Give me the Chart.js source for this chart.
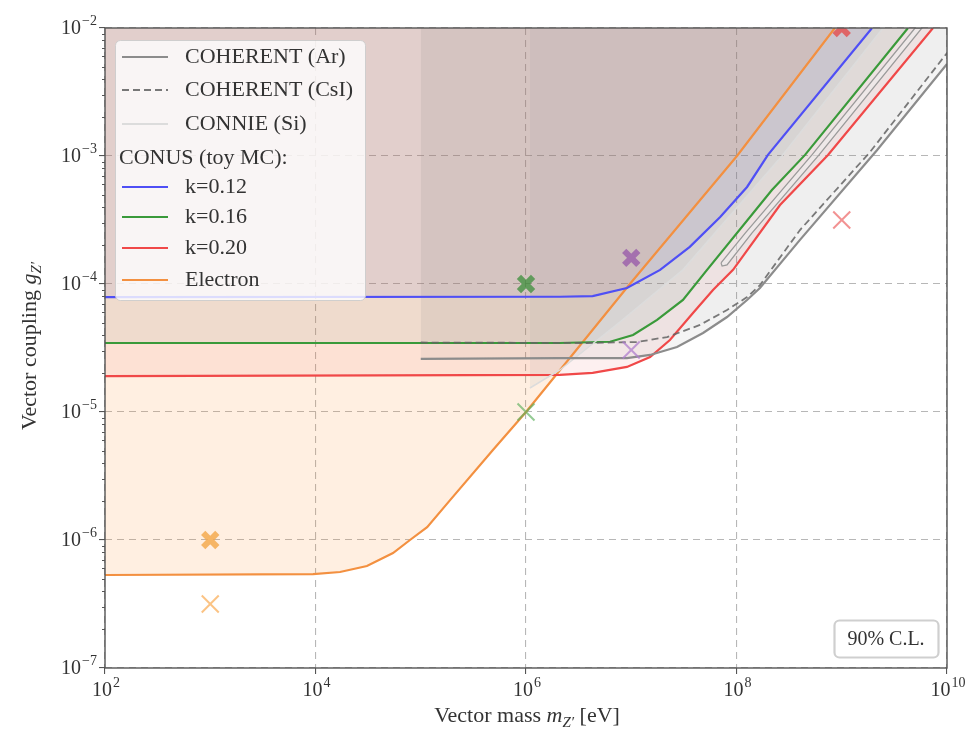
<!DOCTYPE html>
<html>
<head>
<meta charset="utf-8">
<title>Vector Z' limits</title>
<script src="https://cdn.jsdelivr.net/npm/chart.js"></script>
<style>
  body { margin: 0; background: #fff; }
</style>
</head>
<body>
<canvas id="myChart" width="980" height="731"></canvas>
<script>
// values: mass in eV, coupling g_Z'
const xTickVals = [1e2, 1e4, 1e6, 1e8, 1e10];
const yTickVals = [1e-7, 1e-6, 1e-5, 1e-4, 1e-3, 1e-2];

const arMass = [1e5, 2.1e6, 9.1e6, 1.51e7, 2.72e7, 4.81e7, 8.13e7, 1.26e8, 1.67e8, 4.01e8, 2.16e9, 1e10];
const arCoupling = [2.6e-5, 2.64e-5, 2.64e-5, 2.79e-5, 3.22e-5, 4.14e-5, 5.52e-5, 7.5e-5, 9.3e-5, 2.21e-4, 1.11e-3, 5.23e-3];

const csiMass = [1e5, 3.8e6, 1.13e7, 2.19e7, 4.5e7, 8.13e7, 1.26e8, 1.67e8, 4.01e8, 1.85e9, 1e10];
const csiCoupling = [3.49e-5, 3.46e-5, 3.52e-5, 3.85e-5, 4.79e-5, 6.26e-5, 7.9e-5, 9.8e-5, 2.64e-4, 1.07e-3, 6.38e-3];

// small closed CsI contour between the k=0.16 and k=0.20 curves
const csiIslandMass = [7.13e7, 1.21e8, 5.21e8, 4.97e9, 5.78e9, 6.08e8, 1.4e8, 8.13e7, 7.3e7, 7.13e7];
const csiIslandCoupling = [1.46e-4, 2.5e-4, 1.02e-3, 1e-2, 1e-2, 1.02e-3, 2.5e-4, 1.41e-4, 1.38e-4, 1.46e-4];

const connieMass = [1.09e6, 2.1e6, 7.8e6, 3.1e7, 2.7e8, 2.47e9];
const connieCoupling = [1.54e-5, 2.13e-5, 5.05e-5, 1.29e-4, 1e-3, 1e-2];

const k012Mass = [1e2, 2.1e6, 4.3e6, 9.1e6, 1.88e7, 3.6e7, 7.0e7, 1.26e8, 1.99e8, 1.94e9];
const k012Coupling = [7.9e-5, 7.95e-5, 8.05e-5, 9.3e-5, 1.29e-4, 1.95e-4, 3.34e-4, 5.73e-4, 1.02e-3, 1e-2];

const k016Mass = [1e2, 2.1e6, 6.3e6, 1.04e7, 1.76e7, 3.1e7, 5.25e7, 2.17e8, 4.48e8, 4.26e9];
const k016Coupling = [3.46e-5, 3.46e-5, 3.54e-5, 4.0e-5, 5.24e-5, 7.5e-5, 1.29e-4, 5.42e-4, 1.02e-3, 1e-2];

const k020Mass = [1e2, 2.1e6, 4.3e6, 9.1e6, 1.51e7, 2.33e7, 3.86e7, 5.98e7, 9.27e7, 2.59e8, 7.4e8, 7.36e9];
const k020Coupling = [1.91e-5, 1.95e-5, 2.02e-5, 2.25e-5, 2.69e-5, 3.65e-5, 5.93e-5, 8.98e-5, 1.29e-4, 4.14e-4, 1.02e-3, 1e-2];

const electronMass = [1e2, 9.5e3, 1.71e4, 3.08e4, 5.45e4, 7.9e4, 1.15e5, 1.9e5, 4.85e5, 1e6, 9.7e6, 1.01e8, 8.6e8];
const electronCoupling = [5.33e-7, 5.42e-7, 5.62e-7, 6.26e-7, 7.91e-7, 1e-6, 1.26e-6, 2.05e-6, 5.05e-6, 1e-5, 1e-4, 1e-3, 1e-2];

// benchmark points (bold X and thin x)
const boldXMass = [1e3, 1e6, 1e7, 1e9];
const boldXCoupling = [1e-6, 1e-4, 1.6e-4, 1e-2];
const thinXMass = [1e3, 1e6, 1e7, 1e9];
const thinXCoupling = [3.16e-7, 1e-5, 3.05e-5, 3.16e-4];

const legendLabels = ['COHERENT (Ar)', 'COHERENT (CsI)', 'CONNIE (Si)', 'CONUS (toy MC):', 'k=0.12', 'k=0.16', 'k=0.20', 'Electron'];

const SERIF = '"Liberation Serif", "DejaVu Serif", serif';

function pts(xs, ys) {
    return xs.map((x, i) => ({ x: x, y: ys[i] }));
}

function curve(label, xs, ys, color, fillColor, extra) {
    return Object.assign({
        label: label,
        data: pts(xs, ys),
        borderColor: color,
        backgroundColor: fillColor,
        borderWidth: 2.2,
        pointRadius: 0,
        fill: fillColor ? 'end' : false,
        tension: 0
    }, extra || {});
}

const datasets = [
    {
        label: 'bold X',
        data: pts(boldXMass, boldXCoupling),
        showLine: false,
        pointStyle: 'crossRot',
        pointRadius: 10,
        pointBorderWidth: 6,
        pointBorderColor: ['rgba(245,170,80,0.85)', 'rgba(50,140,50,0.7)', 'rgba(150,85,170,0.75)', 'rgba(230,70,70,0.75)'],
        clip: 0
    },
    {
        label: 'thin x',
        data: pts(thinXMass, thinXCoupling),
        showLine: false,
        pointStyle: 'crossRot',
        pointRadius: 12,
        pointBorderWidth: 2,
        pointBorderColor: ['rgba(250,185,110,0.85)', 'rgba(90,175,90,0.65)', 'rgba(175,125,205,0.75)', 'rgba(238,110,110,0.75)'],
        clip: 0
    },
    curve('COHERENT (CsI)', csiMass, csiCoupling, 'rgba(100,100,100,0.85)', 'rgba(110,110,110,0.03)', { borderDash: [7, 4], borderWidth: 1.8 }),
    curve('COHERENT (Ar)', arMass, arCoupling, '#8c8c8c', 'rgba(110,110,120,0.08)'),
    curve('CsI island', csiIslandMass, csiIslandCoupling, '#9a9a9a', 'rgba(255,255,255,0.55)', { fill: 'shape', borderWidth: 1.3 }),
    curve('CONNIE (Si)', connieMass, connieCoupling, '#dcdcdc', 'rgba(120,130,140,0.09)', { borderWidth: 1.5 }),
    curve('k=0.12', k012Mass, k012Coupling, '#4f4ff5', 'rgba(80,60,190,0.08)'),
    curve('k=0.16', k016Mass, k016Coupling, '#3a9a3a', 'rgba(60,140,120,0.08)'),
    curve('k=0.20', k020Mass, k020Coupling, '#f04848', 'rgba(225,60,70,0.08)'),
    curve('Electron', electronMass, electronCoupling, '#f39040', 'rgba(255,140,40,0.14)')
];

const legendStyle = [
    { color: '#8c8c8c', dash: [] },
    { color: '#777', dash: [7, 4] },
    { color: '#dcdcdc', dash: [] },
    null,
    { color: '#4f4ff5', dash: [] },
    { color: '#3a9a3a', dash: [] },
    { color: '#f04848', dash: [] },
    { color: '#f39040', dash: [] }
];
const legendRowY = [57, 90, 124, 158, 187, 217, 248, 280];

function roundBox(ctx, x, y, w, h, r) {
    ctx.beginPath();
    ctx.moveTo(x + r, y);
    ctx.arcTo(x + w, y, x + w, y + h, r);
    ctx.arcTo(x + w, y + h, x, y + h, r);
    ctx.arcTo(x, y + h, x, y, r);
    ctx.arcTo(x, y, x + w, y, r);
    ctx.closePath();
}

// text with italic / subscript pieces, centred on (cx, cy)
function drawRich(ctx, parts, cx, cy, size) {
    const fontOf = p => (p.it ? 'italic ' : '') + (p.sub ? Math.round(size * 0.7) : size) + 'px ' + SERIF;
    let total = 0;
    parts.forEach(p => { ctx.font = fontOf(p); p.w = ctx.measureText(p.t).width; total += p.w; });
    let x = cx - total / 2;
    ctx.textAlign = 'left';
    ctx.textBaseline = 'middle';
    parts.forEach(p => {
        ctx.font = fontOf(p);
        ctx.fillText(p.t, x, cy + (p.sub ? size * 0.3 : 0));
        x += p.w;
    });
}

// "10" with a raised exponent; align is 'right' or 'center'
function drawPow10(ctx, value, x, y, align) {
    const e = Math.round(Math.log10(value));
    const expText = (e < 0 ? '\u2212' : '') + Math.abs(e);
    ctx.font = '20px ' + SERIF;
    const wb = ctx.measureText('10').width;
    ctx.font = '14px ' + SERIF;
    const we = ctx.measureText(expText).width;
    const total = wb + we + 1;
    const x0 = align === 'right' ? x - total : x - total / 2;
    ctx.textAlign = 'left';
    ctx.textBaseline = 'middle';
    ctx.font = '20px ' + SERIF;
    ctx.fillText('10', x0, y);
    ctx.font = '14px ' + SERIF;
    ctx.fillText(expText, x0 + wb + 1, y - 8);
}

const decorations = {
    id: 'decorations',
    afterDatasetsDraw(chart) {
        const ctx = chart.ctx;
        const a = chart.chartArea;
        ctx.save();

        // legend
        ctx.fillStyle = 'rgba(255,255,255,0.8)';
        ctx.strokeStyle = 'rgba(204,204,204,0.9)';
        ctx.lineWidth = 1;
        roundBox(ctx, 115.5, 40.5, 250, 260, 5);
        ctx.fill();
        ctx.stroke();
        ctx.font = '22px ' + SERIF;
        ctx.fillStyle = '#333';
        ctx.textBaseline = 'middle';
        legendLabels.forEach((lab, i) => {
            const st = legendStyle[i];
            const y = legendRowY[i];
            if (st) {
                ctx.strokeStyle = st.color;
                ctx.lineWidth = 2.2;
                ctx.setLineDash(st.dash);
                ctx.beginPath();
                ctx.moveTo(122, y);
                ctx.lineTo(168, y);
                ctx.stroke();
                ctx.setLineDash([]);
                ctx.fillText(lab, 185, y);
            } else {
                ctx.fillText(lab, 119, y);
            }
        });

        // confidence level box
        ctx.fillStyle = 'rgba(255,255,255,0.85)';
        ctx.strokeStyle = '#cfcfcf';
        roundBox(ctx, 834.5, 620.5, 104, 37, 5);
        ctx.fill();
        ctx.stroke();
        ctx.fillStyle = '#333';
        ctx.font = '20px ' + SERIF;
        ctx.textAlign = 'center';
        ctx.fillText('90% C.L.', 886, 640);

        // frame
        ctx.strokeStyle = '#555';
        ctx.lineWidth = 1.4;
        ctx.strokeRect(a.left, a.top, a.right - a.left, a.bottom - a.top);
        ctx.restore();
    },
    afterDraw(chart) {
        const ctx = chart.ctx;
        const a = chart.chartArea;
        const xs = chart.scales.x;
        const ys = chart.scales.y;
        ctx.save();
        // minor ticks on the coupling axis
        ctx.strokeStyle = '#555';
        ctx.lineWidth = 1;
        ctx.beginPath();
        for (let e = -7; e < -2; e++) {
            for (let m = 2; m < 10; m++) {
                const py = Math.round(ys.getPixelForValue(m * Math.pow(10, e))) + 0.5;
                ctx.moveTo(a.left - 3, py);
                ctx.lineTo(a.left, py);
            }
        }
        ctx.stroke();

        // tick labels
        ctx.fillStyle = '#333';
        yTickVals.forEach(v => drawPow10(ctx, v, a.left - 8, ys.getPixelForValue(v) + 1, 'right'));
        xTickVals.forEach(v => drawPow10(ctx, v, xs.getPixelForValue(v) + 1, a.bottom + 23, 'center'));

        drawRich(ctx, [{ t: 'Vector mass ' }, { t: 'm', it: true }, { t: 'Z\u2032', it: true, sub: true }, { t: ' [eV]' }], 527, 716, 22);
        ctx.translate(30, 346);
        ctx.rotate(-Math.PI / 2);
        drawRich(ctx, [{ t: 'Vector coupling ' }, { t: 'g', it: true }, { t: 'Z\u2032', it: true, sub: true }], 0, 0, 22);
        ctx.restore();
    }
};

function axisOptions(min, max, vals) {
    return {
        type: 'logarithmic',
        min: min,
        max: max,
        afterBuildTicks: scale => { scale.ticks = vals.map(v => ({ value: v })); },
        ticks: { display: false },
        grid: {
            color: 'rgba(175,175,175,0.9)',
            lineWidth: 1.1,
            tickLength: 6,
            tickColor: '#555'
        },
        border: { display: false, dash: [7, 5] }
    };
}

const xAxis = axisOptions(1e2, 1e10, xTickVals);
xAxis.afterFit = scale => { scale.height = 63; };
const yAxis = axisOptions(1e-7, 1e-2, yTickVals);
yAxis.afterFit = scale => { scale.width = 105; };

new Chart(document.getElementById('myChart').getContext('2d'), {
    type: 'line',
    data: { datasets: datasets },
    options: {
        responsive: false,
        devicePixelRatio: 1,
        animation: false,
        layout: { padding: { left: 0, top: 28, right: 33, bottom: 0 } },
        plugins: {
            legend: { display: false },
            tooltip: { enabled: false },
            filler: { drawTime: 'beforeDatasetsDraw' }
        },
        scales: { x: xAxis, y: yAxis }
    },
    plugins: [decorations]
});
</script>
</body>
</html>
